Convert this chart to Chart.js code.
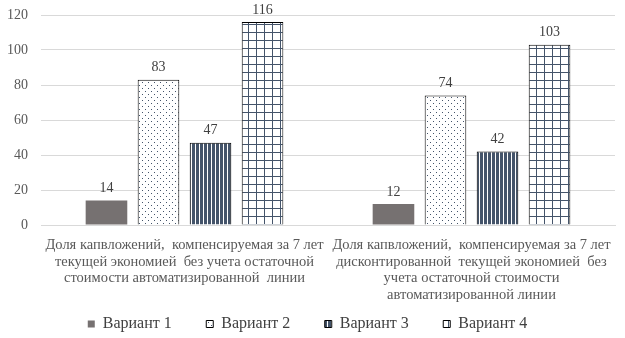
<!DOCTYPE html>
<html lang="ru">
<head>
<meta charset="UTF-8">
<title>Доля капвложений по вариантам</title>
<script src="https://cdn.jsdelivr.net/npm/chart.js"></script>
<style>
    html, body { margin: 0; padding: 0; background: #fff; }
    #wrap { width: 625px; height: 338px; }
</style>
</head>
<body>
<div id="wrap"><canvas id="chart" width="625" height="338"></canvas></div>
<script>
    const categories = [
        ['Доля капвложений,  компенсируемая за 7 лет', 'текущей экономией  без учета остаточной', 'стоимости автоматизированной  линии'],
        ['Доля капвложений,  компенсируемая за 7 лет', 'дисконтированной  текущей экономией  без', 'учета остаточной стоимости', 'автоматизированной линии']
    ];
    const seriesNames = ['Вариант 1', 'Вариант 2', 'Вариант 3', 'Вариант 4'];
    const variant1 = [14, 12];
    const variant2 = [83, 74];
    const variant3 = [47, 42];
    const variant4 = [116, 103];
    const yTicks = [0, 20, 40, 60, 80, 100, 120];

    const INK = '#44546A';
    const FONT = "'Liberation Serif', 'Times New Roman', serif";

    function makeTile(w, h, draw) {
        const c = document.createElement('canvas');
        c.width = w; c.height = h;
        const g = c.getContext('2d');
        draw(g);
        return g.createPattern(c, 'repeat');
    }

    const dots = makeTile(6, 6, g => {
        g.fillStyle = '#fff';
        g.fillRect(0, 0, 6, 6);
        g.fillStyle = INK;
        g.fillRect(1, 1, 1, 1);
        g.fillRect(4, 4, 1, 1);
    });
    const stripes = makeTile(4, 4, g => {
        g.fillStyle = INK;
        g.fillRect(0, 0, 4, 4);
        g.fillStyle = '#fff';
        g.fillRect(3, 0, 1, 4);
    });
    const grid = makeTile(8, 8, g => {
        g.fillStyle = '#fff';
        g.fillRect(0, 0, 8, 8);
        g.fillStyle = INK;
        g.fillRect(0, 0, 8, 1);
        g.fillRect(0, 0, 1, 8);
    });

    // value captions above each bar
    const barValues = {
        id: 'barValues',
        afterDatasetsDraw(chart) {
            const ctx = chart.ctx;
            ctx.save();
            ctx.font = '14px ' + FONT;
            ctx.fillStyle = '#404040';
            ctx.textAlign = 'center';
            ctx.textBaseline = 'bottom';
            chart.data.datasets.forEach((ds, i) => {
                chart.getDatasetMeta(i).data.forEach((bar, j) => {
                    ctx.fillText(ds.data[j], bar.x, bar.y - 5);
                });
            });
            ctx.restore();
        }
    };

    new Chart(document.getElementById('chart'), {
        type: 'bar',
        data: {
            labels: categories,
            datasets: [
                { label: seriesNames[0], data: variant1, backgroundColor: '#767171', borderWidth: 0 },
                { label: seriesNames[1], data: variant2, backgroundColor: dots, borderColor: '#000', borderWidth: 1 },
                { label: seriesNames[2], data: variant3, backgroundColor: stripes, borderColor: '#000', borderWidth: 1 },
                { label: seriesNames[3], data: variant4, backgroundColor: grid, borderColor: '#000', borderWidth: 1 }
            ]
        },
        options: {
            responsive: false,
            animation: false,
            categoryPercentage: 0.725,
            barPercentage: 0.8,
            layout: { padding: { top: 15, right: 10, left: 0, bottom: -4 } },
            plugins: {
                tooltip: { enabled: false },
                legend: {
                    position: 'bottom',
                    labels: {
                        boxWidth: 7,
                        boxHeight: 7,
                        padding: 34.5,
                        color: '#404040',
                        font: { family: FONT, size: 16 }
                    }
                }
            },
            scales: {
                x: {
                    grid: { display: false },
                    border: { color: '#d9d9d9' },
                    afterFit(axis) {
                        // labels run on into the legend's empty top margin
                        axis.height = 56.5;
                        axis._computeLabelArea = () => undefined;
                    },
                    ticks: {
                        autoSkip: false,
                        maxRotation: 0,
                        color: '#595959',
                        padding: 4,
                        font: { family: FONT, size: 14.5, lineHeight: '16.5px' }
                    }
                },
                y: {
                    min: yTicks[0],
                    max: yTicks[yTicks.length - 1],
                    afterBuildTicks(axis) {
                        axis.ticks = yTicks.map(v => ({ value: v }));
                    },
                    afterFit(axis) {
                        axis.width = 41;
                        axis.paddingTop = 0;
                        axis.paddingBottom = 0;
                    },
                    border: { display: false },
                    grid: { color: '#d9d9d9', drawTicks: false },
                    ticks: {
                        color: '#595959',
                        padding: 13,
                        font: { family: FONT, size: 14 }
                    }
                }
            }
        },
        plugins: [barValues]
    });
</script>
</body>
</html>
